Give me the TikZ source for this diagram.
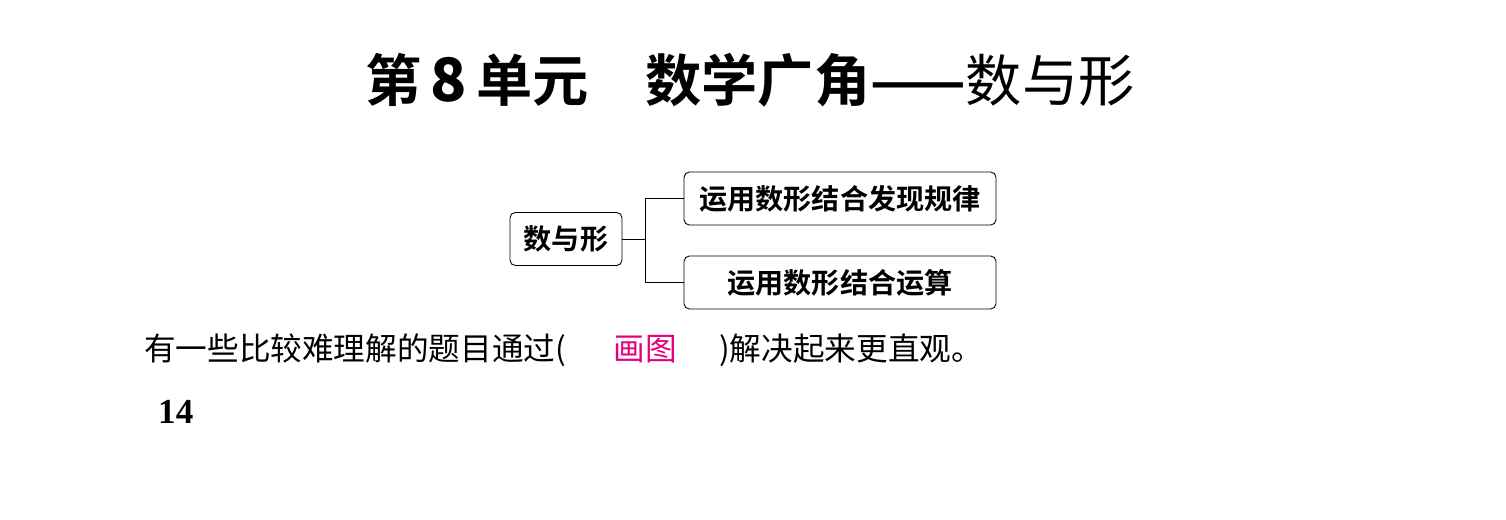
\documentclass[tikz,border=0pt]{standalone}
\usepackage{fontspec}
\newfontfamily\cjk{Noto Sans CJK SC}
\newfontfamily\cjkb{Noto Sans CJK SC Bold}
\setmainfont{Liberation Serif}
\usetikzlibrary{positioning}
\definecolor{answerpink}{HTML}{E4007F}
\tikzset{
  topicbox/.style={rectangle, draw, rounded corners=3pt, line width=0.5pt, minimum height=1.06cm, font=\cjkb\fontsize{16pt}{16pt}\selectfont, inner xsep=4pt},
  line/.style={line width=0.5pt}
}
\begin{document}
\begin{tikzpicture}[x=0.02cm,y=-0.02cm]
\useasboundingbox (0,0) rectangle (1506,520);
\node (title) at (750,80) {\cjkb\fontsize{32pt}{32pt}\selectfont 第\,{\bfseries\fontsize{34pt}{34pt}\selectfont 8}\,单元\quad 数学广角——{\cjk 数与形}};
\node (root) [topicbox, minimum width=2.24cm] at (566,239) {数与形};
\node (law) [topicbox, minimum width=6.24cm] at (840,198.5) {运用数形结合发现规律};
\node (calc) [topicbox, minimum width=6.24cm] at (840,282.5) {运用数形结合运算};
\coordinate (fork) at (645,239);
\draw [line] (root) -- (fork);
\draw [line] (fork) |- (law);
\draw [line] (fork) |- (calc);
\node (sentence) [anchor=west, font=\cjk\fontsize{18pt}{18pt}\selectfont] at (138,350) {有一些比较难理解的题目通过(\hspace{0.95cm}{\color{answerpink}画图}\hspace{0.85cm})解决起来更直观。};
\node (page) [anchor=west, font=\bfseries\fontsize{20pt}{20pt}\selectfont] at (152,412) {14};
\end{tikzpicture}
\end{document}
